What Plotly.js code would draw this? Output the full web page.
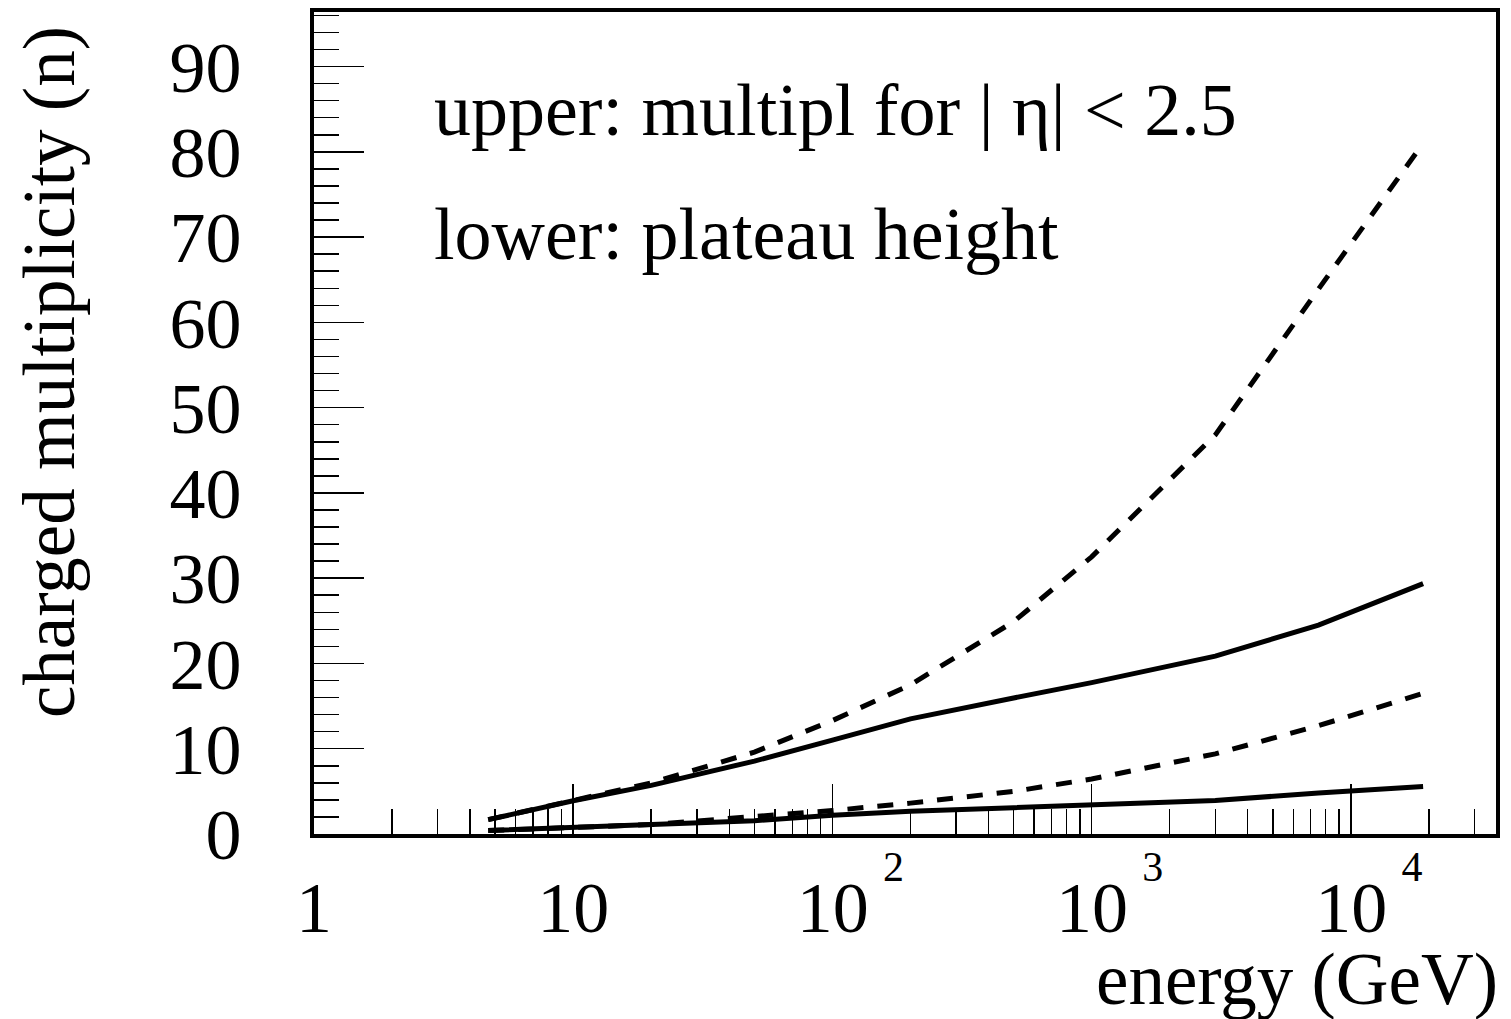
<!DOCTYPE html>
<html>
<head>
<meta charset="utf-8">
<script src="https://cdn.plot.ly/plotly-3.0.1.min.js"></script>
<style>
  html, body { margin: 0; padding: 0; background: #fff; }
  #chart { width: 1511px; height: 1019px; }
</style>
</head>
<body>
<div id="chart"></div>
<script>
// energies (GeV) at which the curves were read
const energy = [4.7, 10, 20, 50, 100, 200, 500, 1000, 3000, 7500, 19000];
// upper: multiplicity for |eta| < 2.5
const upperSolid  = [1.68, 3.9, 5.7, 8.55, 11.0, 13.5, 15.95, 17.75, 20.86, 24.49, 29.36];
const upperDashed = [1.68, 3.95, 6.0, 9.6, 13.3, 17.5, 24.9, 32.5, 46.8, 63.9, 81.0];
// lower: plateau height
const lowerSolid  = [0.4, 0.78, 1.05, 1.55, 2.2, 2.67, 3.09, 3.43, 3.94, 4.80, 5.58];
const lowerDashed = [0.4, 0.8, 1.1, 2.05, 2.75, 3.62, 5.0, 6.45, 9.4, 12.7, 16.49];

const xTickVals = [1, 10, 100, 1000, 10000];
const xTickExp = ['', '', '2', '3', '4'];
const xTickText = xTickVals.map((v, i) => xTickExp[i] === '' ? String(v) :
  '\u00a0\u00a010\u2009<sup><sup><span style="font-size:42px">' + xTickExp[i] + '</span></sup></sup>');

const xTitle = 'energy (GeV)';
const yTitle = 'charged multiplicity (n)';
const note1 = 'upper: multipl for | \u03b7| < 2.5';
const note2 = 'lower: plateau height';

const FONT = 'Liberation Serif, Times New Roman, serif';

function line(y, dash) {
  return {
    x: energy, y: y, type: 'scatter', mode: 'lines',
    line: { color: '#000', width: 5, dash: dash },
    showlegend: false, hoverinfo: 'skip'
  };
}

const data = [
  line(upperSolid, 'solid'),
  line(lowerSolid, 'solid'),
  line(upperDashed, '16px,14px'),
  line(lowerDashed, '16px,14px')
];

const layout = {
  width: 1511, height: 1019,
  margin: { l: 314, r: 15, t: 12, b: 185, pad: 0 },
  paper_bgcolor: '#fff', plot_bgcolor: '#fff',
  showlegend: false,
  font: { family: FONT, size: 72, color: '#000' },
  xaxis: {
    type: 'log', range: [0, 4.56],
    tickmode: 'array', tickvals: xTickVals, ticktext: xTickText,
    ticks: 'inside', ticklen: 50, tickwidth: 1.5, tickcolor: '#000',
    minor: { ticks: 'inside', ticklen: 25, tickwidth: 1.5, tickcolor: '#000', dtick: 'D1', showgrid: false },
    showgrid: false, zeroline: false,
    showline: true, linewidth: 4, linecolor: '#000', mirror: true,
    tickfont: { family: FONT, size: 72, color: '#000' },
    ticklabelstandoff: 8
  },
  yaxis: {
    range: [0, 96.4], tick0: 0, dtick: 10,
    ticks: 'inside', ticklen: 50, tickwidth: 1.5, tickcolor: '#000',
    minor: { ticks: 'inside', ticklen: 25, tickwidth: 1.5, tickcolor: '#000', dtick: 2, showgrid: false },
    showgrid: false, zeroline: false,
    showline: true, linewidth: 4, linecolor: '#000', mirror: true,
    tickfont: { family: FONT, size: 72, color: '#000' },
    ticklabelstandoff: 54
  },
  annotations: [
    { text: note1, xref: 'paper', yref: 'paper', x: 0.0998, y: 0.8808,
      xanchor: 'left', yanchor: 'middle', showarrow: false,
      font: { family: FONT, size: 74, color: '#000' } },
    { text: note2, xref: 'paper', yref: 'paper', x: 0.0998, y: 0.7299,
      xanchor: 'left', yanchor: 'middle', showarrow: false,
      font: { family: FONT, size: 74, color: '#000' } },
    { text: xTitle, xref: 'paper', yref: 'paper', x: 1.0034, y: -0.177,
      xanchor: 'right', yanchor: 'middle', showarrow: false,
      font: { family: FONT, size: 73, color: '#000' } },
    { text: yTitle, xref: 'paper', yref: 'paper', x: -0.2242, y: 0.562,
      xanchor: 'center', yanchor: 'middle', showarrow: false, textangle: -90,
      font: { family: FONT, size: 73, color: '#000' } }
  ]
};

Plotly.newPlot('chart', data, layout, { displayModeBar: false, staticPlot: true });
</script>
</body>
</html>
